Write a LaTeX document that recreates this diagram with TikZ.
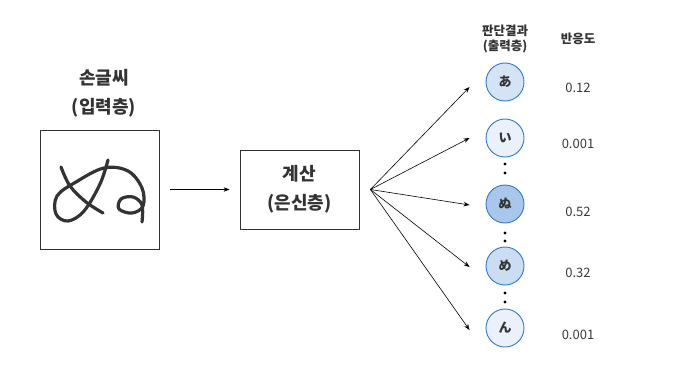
\documentclass[tikz,border=0pt]{standalone}
\usepackage{fontspec}
\setmainfont{Noto Sans CJK KR}
\usetikzlibrary{arrows.meta, positioning, calc}
\definecolor{inkgray}{HTML}{333333}
\definecolor{txtgray}{HTML}{3A3A3A}
\definecolor{nodeblue}{HTML}{2F78CF}
\definecolor{paleblue}{HTML}{EAF1FA}
\definecolor{softblue}{HTML}{D5E4F5}
\definecolor{midblue}{HTML}{CADDF3}
\definecolor{deepblue}{HTML}{A9C7EB}

\begin{document}
\begin{tikzpicture}[x=1pt, y=-1pt, >={Stealth[length=6pt, width=4.5pt]},
  layerbox/.style={draw=inkgray, line width=0.8pt, fill=white},
  outnode/.style={circle, draw=nodeblue, line width=0.9pt, minimum size=38pt, inner sep=0pt, font=\fontsize{13}{13}\selectfont\bfseries, text=inkgray},
  title/.style={font=\fontsize{18}{29}\selectfont\bfseries, text=inkgray, align=center},
  header/.style={font=\fontsize{12.5}{15}\selectfont\bfseries, text=inkgray, align=center},
  score/.style={font=\fontsize{13}{13}\selectfont, text=txtgray},
  link/.style={->, line width=0.6pt, black}]

% Background
\useasboundingbox (0,0) rectangle (700,380);
\fill[white] (0,0) rectangle (700,380);

% Input layer
\node[title] (intitle) at (104,93) {손글씨\\(입력층)};
\node[layerbox, minimum width=119pt, minimum height=119pt] (input) at (99.5,189.5) {};

% Handwritten character
\draw[inkgray, line width=3.2pt, line cap=round, line join=round]
  plot[smooth, tension=0.6] coordinates {(61,167) (70,186) (86,202) (103,213)};
\draw[inkgray, line width=3.2pt, line cap=round, line join=round]
  plot[smooth, tension=0.6] coordinates {(108,160) (100,184) (84,211) (68,221) (56,214) (57,196) (76,182) (104,168) (128,171) (142,188) (143,206) (132,213) (119,209) (121,199) (133,197) (142,205) (142,222)};

% Hidden layer
\node[layerbox, minimum width=119pt, minimum height=79pt, title] (hidden) at (299.5,189.5) {계산\\(은신층)};
\draw[link] ([xshift=11pt]input.east) -- ([xshift=-10pt]hidden.west);
\coordinate (fan) at ([xshift=11pt]hidden.east);

% Output layer
\node[header] (outtitle) at (505,39) {판단결과\\(출력층)};
\node[header] (scoretitle) at (578,39) {반응도};

\node[outnode, fill=softblue] (a) at (505,82) {あ};
\node[outnode, fill=paleblue] (i) at (505,138) {い};
\node[outnode, fill=deepblue] (nu) at (505,204) {ぬ};
\node[outnode, fill=midblue] (me) at (505,266) {め};
\node[outnode, fill=paleblue] (n) at (505,328) {ん};

% Gaps between nodes
\foreach \y in {164,173,233,241,293,302} {
  \fill[black] (505,\y) circle (1.6pt);
}

% Connections
\draw[link] (fan) -- ([xshift=-16pt,yshift=-5pt]a.west);
\draw[link] (fan) -- ([xshift=-16pt]i.west);
\draw[link] (fan) -- ([xshift=-16pt,yshift=-1pt]nu.west);
\draw[link] (fan) -- ([xshift=-16pt,yshift=-1pt]me.west);
\draw[link] (fan) -- ([xshift=-16pt,yshift=-2pt]n.west);

% Scores
\node[score] (sa) at (578,88) {0.12};
\node[score] (si) at (578,144) {0.001};
\node[score] (snu) at (578,212) {0.52};
\node[score] (sme) at (578,273) {0.32};
\node[score] (sn) at (578,335) {0.001};

\end{tikzpicture}
\end{document}
